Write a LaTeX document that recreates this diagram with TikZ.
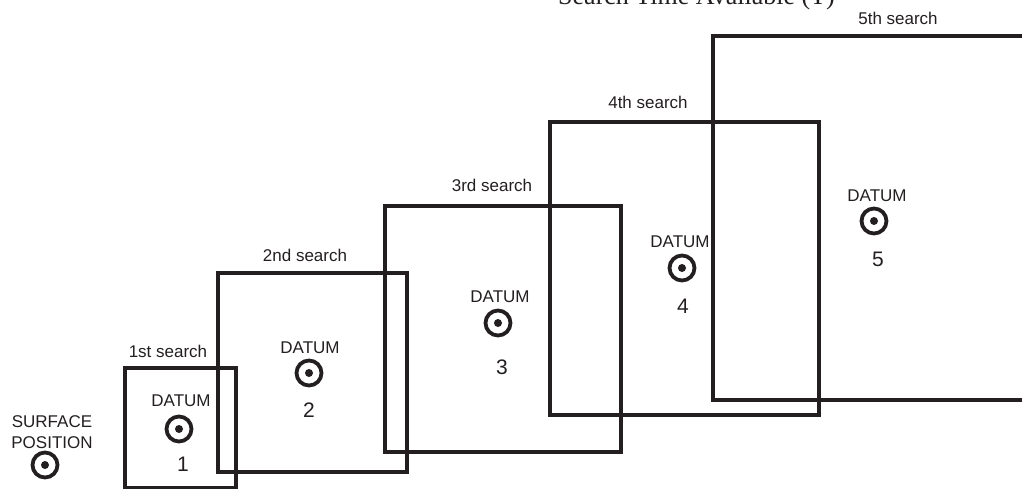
\documentclass[tikz,border=0pt]{standalone}
\usepackage{fontspec}
\setmainfont{Liberation Serif}
\setsansfont{Liberation Sans}
\definecolor{ink}{HTML}{231F20}
\begin{document}
\begin{tikzpicture}[x=1pt,y=-1pt,
  searchbox/.style={draw=ink, line width=3.6pt},
  lbl/.style={font=\sffamily\fontsize{17}{21}\selectfont, text=ink, inner sep=0pt},
  num/.style={font=\sffamily\fontsize{21}{23}\selectfont, text=ink, inner sep=0pt},
  datum/.style={circle, draw=ink, line width=3.8pt, minimum size=25pt, inner sep=0pt},
  dot/.style={circle, fill=ink, minimum size=8pt, inner sep=0pt}]
\clip (0,0) rectangle (1022,489);
\useasboundingbox (0,0) rectangle (1022,489);

% title (partly cut off at the top, as in the reference)
\node[font=\fontsize{26}{28}\selectfont, text=ink, inner sep=0pt, anchor=base west] (title) at (558,5) {Search Time Available (T)};

% search boxes
\draw[searchbox] (125,368) rectangle (236,488);
\draw[searchbox] (218,273) rectangle (407,472);
\draw[searchbox] (385,206) rectangle (621,452);
\draw[searchbox] (550,122) rectangle (819,415);
\draw[searchbox] (713,36) rectangle (1040,400);

% box labels
\node[lbl] (s1) at (168,351) {1st search};
\node[lbl] (s2) at (305,255) {2nd search};
\node[lbl] (s3) at (492,185) {3rd search};
\node[lbl] (s4) at (648,102) {4th search};
\node[lbl] (s5) at (898,18) {5th search};

% surface position
\node[lbl, align=center] (sp) at (52,432) {SURFACE\\POSITION};
\node[datum] (c0) at (45,465) {};
\node[dot] (d0) at (c0.center) {};

% datum 1
\node[lbl] (t1) at (181,401) {DATUM};
\node[datum] (c1) at (179,429) {};
\node[dot] (d1) at (c1.center) {};
\node[num] (n1) at (183,464) {1};

% datum 2
\node[lbl] (t2) at (310,348) {DATUM};
\node[datum] (c2) at (309,373) {};
\node[dot] (d2) at (c2.center) {};
\node[num] (n2) at (309,410) {2};

% datum 3
\node[lbl] (t3) at (500,297) {DATUM};
\node[datum] (c3) at (498,323) {};
\node[dot] (d3) at (c3.center) {};
\node[num] (n3) at (502,367) {3};

% datum 4
\node[lbl] (t4) at (680,242) {DATUM};
\node[datum] (c4) at (682,268) {};
\node[dot] (d4) at (c4.center) {};
\node[num] (n4) at (683,306) {4};

% datum 5
\node[lbl] (t5) at (877,196) {DATUM};
\node[datum] (c5) at (874,221) {};
\node[dot] (d5) at (c5.center) {};
\node[num] (n5) at (878,259) {5};
\end{tikzpicture}
\end{document}
